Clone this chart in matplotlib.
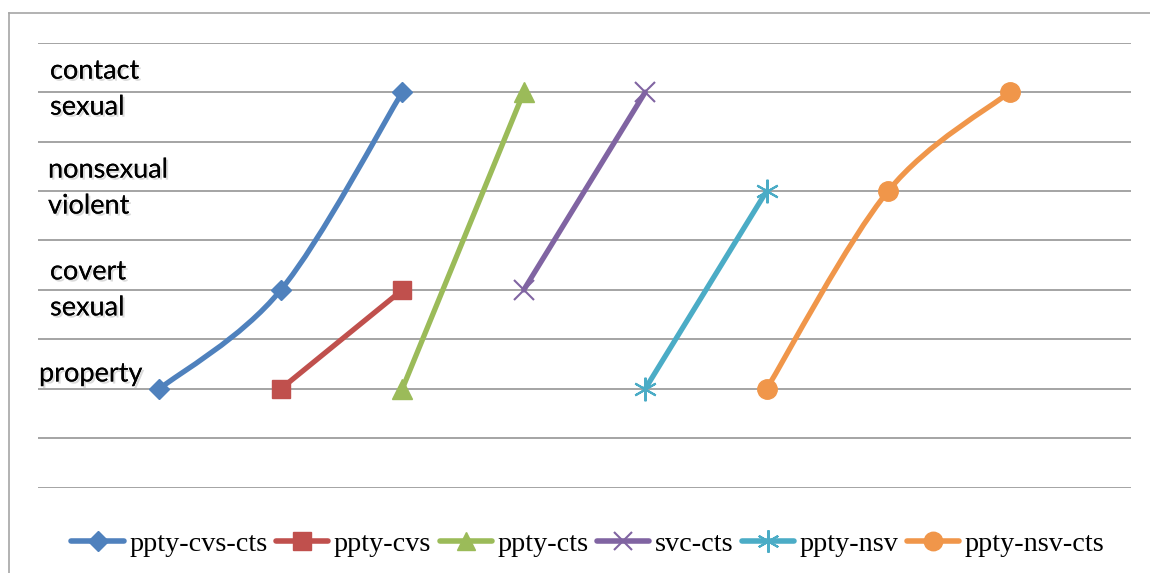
import matplotlib
matplotlib.use("Agg")
import matplotlib.pyplot as plt
import matplotlib.patheffects as pe
from matplotlib.path import Path
from matplotlib.patches import PathPatch
from matplotlib.lines import Line2D
import numpy as np

# ---- data ----
series_names = ["ppty-cvs-cts", "ppty-cvs", "ppty-cts", "svc-cts", "ppty-nsv", "ppty-nsv-cts"]
series_x = [[1, 2, 3], [2, 3], [3, 4], [4, 5], [5, 6], [6, 7, 8]]
series_y = [[2, 4, 8], [2, 4], [2, 8], [4, 8], [2, 6], [2, 6, 8]]
series_smooth = [True, False, False, False, False, True]
colors = ["#4F81BD", "#C0504D", "#9BBB59", "#8064A2", "#4BACC6", "#F0964A"]
markers = ["D", "s", "^", "x", (6, 2, 0), "o"]
marker_sizes = [10.5, 13, 14, 14, 17, 14]

label_texts = ["contact\nsexual", "nonsexual\nviolent", "covert\nsexual", "property"]
label_y = [8, 6, 4, 2]

W, H = 1150, 573
fig = plt.figure(figsize=(W / 100, H / 100), dpi=100)
ax = fig.add_axes([38 / W, (H - 487.7) / H, (1131 - 38) / W, (487.7 - 42.7) / H])
ax.set_xlim(0, 9)
ax.set_ylim(0, 9)
for yv in range(0, 10):
    ax.axhline(yv, color="#8c8c8c", lw=1.1, zorder=1)
for s in ax.spines.values():
    s.set_visible(False)
ax.set_xticks([])
ax.set_yticks([])


def bezier_path(xs, ys):
    pts = np.column_stack([xs, ys]).astype(float)
    n = len(pts)
    verts = [pts[0]]
    codes = [Path.MOVETO]
    for i in range(n - 1):
        p_prev = pts[i - 1] if i > 0 else pts[i]
        p0 = pts[i]
        p1 = pts[i + 1]
        p_next = pts[i + 2] if i + 2 < n else pts[i + 1]
        c1 = p0 + (p1 - p_prev) / 6.0
        c2 = p1 - (p_next - p0) / 6.0
        verts += [c1, c2, p1]
        codes += [Path.CURVE4] * 3
    return Path(verts, codes)


def mew_for(m):
    return 1.5 if (m == "x" or isinstance(m, tuple)) else 1


lw = 3.8
for name, xs, ys, sm, c, m, ms in zip(series_names, series_x, series_y,
                                       series_smooth, colors, markers, marker_sizes):
    if sm:
        ax.add_patch(PathPatch(bezier_path(xs, ys), fill=False, edgecolor=c, lw=lw,
                               capstyle="round", joinstyle="round", zorder=3))
    else:
        ax.plot(xs, ys, ls="-", lw=lw, color=c, solid_capstyle="round", zorder=3)
    ax.plot(xs, ys, ls="none", marker=m, ms=ms, color=c, mec=c, mew=mew_for(m), zorder=4)

# category labels with soft shadow
shadow = [pe.withSimplePatchShadow(offset=(1.5, -1.5), shadow_rgbFace="#b0b0b0", alpha=0.45), pe.Normal()]
label_x_px = [50, 48, 50, 39]
label_dy = [0.06, 0.06, 0.0, 0.3]
for t, yv, xp, dy in zip(label_texts, label_y, label_x_px, label_dy):
    ax.text((xp - 38) / 121.4, yv + dy, t, fontsize=19.5, family="Lato", color="black",
            ha="left", va="center", linespacing=1.55, path_effects=shadow, zorder=5)

# legend
handles = [Line2D([], [], color=c, lw=4, marker=m, ms=ms * 0.95, mec=c, mew=mew_for(m),
                  solid_capstyle="round")
           for c, m, ms in zip(colors, markers, marker_sizes)]
fig.legend(handles, series_names, loc="center", bbox_to_anchor=(588 / W, 1 - 544 / H),
           ncol=6, frameon=False, prop={"family": "Liberation Serif", "size": 20.3},
           handlelength=1.85, handletextpad=0.2, columnspacing=0.3, borderpad=0)

# chart border
fig.add_artist(Line2D([8.5 / W, 8.5 / W], [0, 1 - 13 / H], color="#a6a6a6", lw=1.2))
fig.add_artist(Line2D([8.5 / W, 1], [1 - 13 / H, 1 - 13 / H], color="#a6a6a6", lw=1.2))

fig.savefig("out.png", dpi=100)
